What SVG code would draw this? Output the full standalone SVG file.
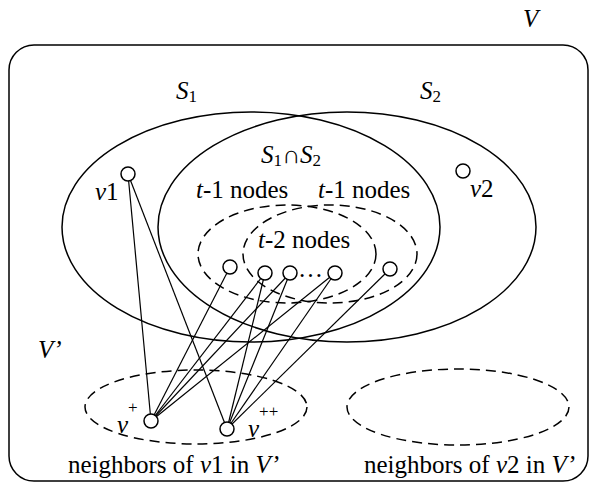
<svg xmlns="http://www.w3.org/2000/svg" width="590" height="485" viewBox="0 0 590 485">
<style>
  .solid { fill: none; stroke: #000; stroke-width: 1.5; }
  .dash { fill: none; stroke: #000; stroke-width: 1.5; stroke-dasharray: 10 6; }
  .edge { stroke: #000; stroke-width: 1.2; fill: none; }
  .node { fill: #fff; stroke: #000; stroke-width: 1.5; }
  .t { font-family: 'Liberation Serif', 'Times New Roman', serif; font-size: 25px; fill: #000; }
  .it { font-style: italic; }
  .sub { font-size: 17px; }
</style>
<g font-family="Liberation Serif, Times New Roman, serif" font-size="25">
<rect id="V-box" x="9" y="45" width="579" height="436" rx="25" ry="25" class="solid"/>
<text class="t it" x="523" y="27">V</text>

<g id="S1">
  <ellipse cx="251" cy="227" rx="189" ry="115" class="solid"/>
  <text class="t" x="176" y="99"><tspan class="it">S</tspan><tspan class="sub" dy="3">1</tspan></text>
</g>
<g id="S2">
  <ellipse cx="347" cy="227" rx="189" ry="115" class="solid"/>
  <text class="t" x="420" y="99"><tspan class="it">S</tspan><tspan class="sub" dy="3">2</tspan></text>
</g>
<g id="intersection-label">
  <text class="t" x="261" y="163"><tspan class="it">S</tspan><tspan class="sub" dy="3">1</tspan><tspan dy="-3">∩</tspan><tspan class="it">S</tspan><tspan class="sub" dy="3">2</tspan></text>
</g>
<g id="t1-left">
  <ellipse cx="287" cy="254" rx="89" ry="49" class="dash"/>
  <text class="t" x="196" y="198"><tspan class="it">t</tspan>-1 nodes</text>
</g>
<g id="t1-right">
  <ellipse cx="330" cy="254" rx="87" ry="49" class="dash"/>
  <text class="t" x="318" y="198"><tspan class="it">t</tspan>-1 nodes</text>
</g>
<text class="t" x="258" y="248"><tspan class="it">t</tspan>-2 nodes</text>

<g id="N1">
  <ellipse cx="196" cy="407" rx="111" ry="37" class="dash"/>
  <text class="t" x="68" y="473">neighbors of <tspan class="it">v</tspan>1 in <tspan class="it">V’</tspan></text>
</g>
<g id="N2">
  <ellipse cx="458" cy="407" rx="111" ry="38" class="dash"/>
  <text class="t" x="364" y="473">neighbors of <tspan class="it">v</tspan>2 in <tspan class="it">V’</tspan></text>
</g>
<text class="t it" x="38" y="358">V’</text>

<g id="connectors">
  <line class="edge" x1="128" y1="174" x2="151" y2="421"/>
  <line class="edge" x1="128" y1="174" x2="227" y2="429"/>
  <line class="edge" x1="151" y1="421" x2="230" y2="267"/>
  <line class="edge" x1="151" y1="421" x2="265" y2="273"/>
  <line class="edge" x1="151" y1="421" x2="290" y2="273"/>
  <line class="edge" x1="151" y1="421" x2="335" y2="273"/>
  <line class="edge" x1="227" y1="429" x2="265" y2="273"/>
  <line class="edge" x1="227" y1="429" x2="290" y2="273"/>
  <line class="edge" x1="227" y1="429" x2="335" y2="273"/>
  <line class="edge" x1="227" y1="429" x2="390" y2="269"/>
</g>

<g id="v1">
  <circle cx="128" cy="174" r="7" class="node"/>
  <text class="t" x="95" y="200"><tspan class="it">v</tspan>1</text>
</g>
<g id="v2">
  <circle cx="463" cy="171" r="7" class="node"/>
  <text class="t" x="470" y="197"><tspan class="it">v</tspan>2</text>
</g>
<g id="a"><circle cx="230" cy="267" r="7" class="node"/></g>
<g id="b"><circle cx="265" cy="273" r="7" class="node"/></g>
<g id="c"><circle cx="290" cy="273" r="7" class="node"/></g>
<text class="t" x="298" y="277">…</text>
<g id="d"><circle cx="335" cy="273" r="7" class="node"/></g>
<g id="e"><circle cx="390" cy="269" r="7" class="node"/></g>
<g id="vplus">
  <circle cx="151" cy="421" r="7" class="node"/>
  <text class="t" x="117" y="433"><tspan class="it">v</tspan><tspan class="sub" dy="-20">+</tspan></text>
</g>
<g id="vplusplus">
  <circle cx="227" cy="429" r="7" class="node"/>
  <text class="t" x="248" y="437"><tspan class="it">v</tspan><tspan class="sub" dy="-20">++</tspan></text>
</g>
</g>
</svg>
